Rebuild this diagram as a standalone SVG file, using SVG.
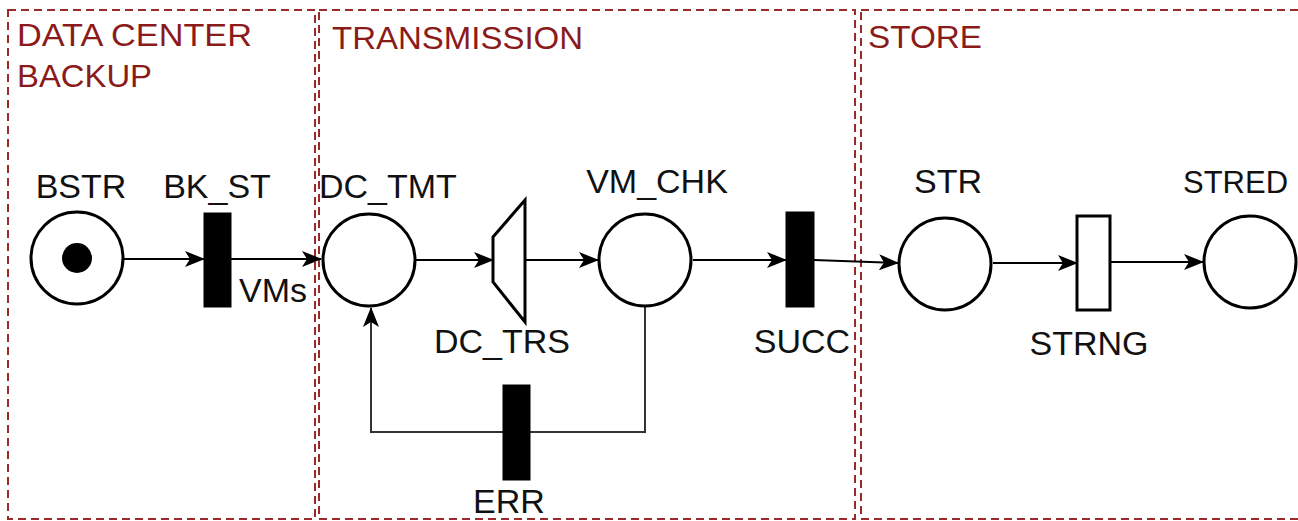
<svg xmlns="http://www.w3.org/2000/svg" width="1298" height="521" viewBox="0 0 1298 521">
<defs>
<style>
.zone{fill:none;stroke:#9a2a2a;stroke-width:2;stroke-dasharray:8 5}
.title{font-family:"Liberation Sans",Arial,sans-serif;font-size:32px;fill:#8b1a1a}
.lbl{font-family:"Liberation Sans",Arial,sans-serif;font-size:34px;fill:#111}
.place{fill:#fff;stroke:#000;stroke-width:3}
.trans{fill:#000;stroke:#000;stroke-width:1}
.wtrans{fill:#fff;stroke:#000;stroke-width:3}
.edge{fill:none;stroke:#000;stroke-width:2;marker-end:url(#arr)}
.edge2{fill:none;stroke:#333;stroke-width:2}
</style>
<marker id="arr" markerUnits="userSpaceOnUse" markerWidth="20" markerHeight="16" refX="19" refY="8" orient="auto">
<path d="M0,0 L20,8 L0,16 L5,8 Z" fill="#000"/>
</marker>
</defs>
<rect width="1298" height="521" fill="#fff"/>
<g id="zones">
<rect class="zone" x="8" y="10" width="307" height="509"/>
<rect class="zone" x="319" y="10" width="536" height="509"/>
<rect class="zone" x="861" y="10" width="445" height="509"/>
<text class="title" x="17" y="46" textLength="235" lengthAdjust="spacingAndGlyphs">DATA CENTER</text>
<text class="title" x="17" y="87" textLength="135" lengthAdjust="spacingAndGlyphs">BACKUP</text>
<text class="title" x="332" y="49" textLength="251" lengthAdjust="spacingAndGlyphs">TRANSMISSION</text>
<text class="title" x="868" y="48" textLength="114" lengthAdjust="spacingAndGlyphs">STORE</text>
</g>
<g id="connectors">
<path class="edge" d="M124,259 L204,259"/>
<path class="edge" d="M231,259 L321,259"/>
<path class="edge" d="M416,260 L493,260"/>
<path class="edge" d="M525,260 L598,260"/>
<path class="edge" d="M693,260 L786,260"/>
<path class="edge" d="M814,260 L898,263"/>
<path class="edge" d="M993,263 L1077,263"/>
<path class="edge" d="M1110,262 L1203,262"/>
<path class="edge2" d="M645,307 L645,432 L371,432 L371,308" style="marker-end:url(#arr)"/>
</g>
<g id="BSTR">
<circle class="place" cx="77" cy="258" r="46"/>
<circle cx="77" cy="258" r="15" fill="#000"/>
<text class="lbl" x="81" y="198" text-anchor="middle">BSTR</text>
</g>
<g id="BK_ST">
<rect class="trans" x="204" y="213" width="27" height="94"/>
<text class="lbl" x="217" y="198" text-anchor="middle">BK_ST</text>
<text class="lbl" x="239" y="302">VMs</text>
</g>
<g id="DC_TMT">
<circle class="place" cx="369" cy="260" r="46"/>
<text class="lbl" x="319" y="198">DC_TMT</text>
</g>
<g id="DC_TRS">
<path class="wtrans" d="M493,237 L525,200 L525,322 L493,282 Z"/>
<text class="lbl" x="502" y="353" text-anchor="middle">DC_TRS</text>
</g>
<g id="VM_CHK">
<circle class="place" cx="645" cy="260" r="46"/>
<text class="lbl" x="657" y="193" text-anchor="middle">VM_CHK</text>
</g>
<g id="SUCC">
<rect class="trans" x="786" y="212" width="28" height="95"/>
<text class="lbl" x="802" y="353" text-anchor="middle">SUCC</text>
</g>
<g id="ERR">
<rect class="trans" x="503" y="385" width="27" height="95"/>
<text class="lbl" x="509" y="513" text-anchor="middle">ERR</text>
</g>
<g id="STR">
<circle class="place" cx="945" cy="264" r="46"/>
<text class="lbl" x="948" y="193" text-anchor="middle">STR</text>
</g>
<g id="STRNG">
<rect class="wtrans" x="1077" y="216" width="33" height="94"/>
<text class="lbl" x="1089" y="355" text-anchor="middle">STRNG</text>
</g>
<g id="STRED">
<circle class="place" cx="1250" cy="262" r="46"/>
<text class="lbl" x="1183" y="193" style="font-size:31px">STRED</text>
</g>
</svg>
